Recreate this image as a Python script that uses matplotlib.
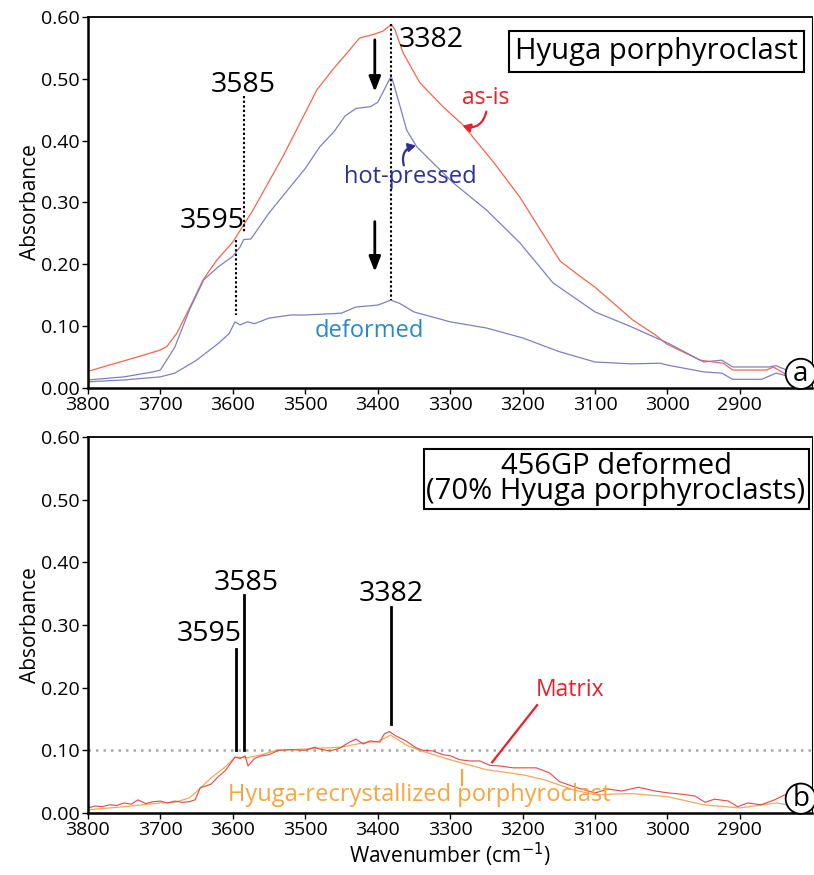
import numpy as np
import matplotlib.pyplot as plt

plt.rcParams['font.family'] = ['Open Sans', 'DejaVu Sans']

# ---- panel a: Hyuga porphyroclast ----
asis_x = [3800, 3738, 3701, 3691, 3677, 3659, 3641, 3622, 3600, 3572, 3531, 3484, 3462, 3440, 3425,
          3405, 3393, 3381, 3376, 3365, 3342, 3310, 3282, 3240, 3204, 3175, 3148, 3120, 3100, 3048,
          3017, 3001, 2955, 2923, 2910, 2863, 2854, 2835, 2815, 2800]
asis_y = [0.027, 0.048, 0.061, 0.067, 0.089, 0.131, 0.175, 0.207, 0.236, 0.288, 0.374, 0.482, 0.515, 0.545, 0.566,
          0.572, 0.577, 0.588, 0.579, 0.542, 0.494, 0.455, 0.425, 0.365, 0.309, 0.255, 0.205, 0.180, 0.163, 0.110,
          0.086, 0.071, 0.045, 0.040, 0.029, 0.029, 0.034, 0.021, 0.016, 0.012]

hot_x = [3800, 3750, 3710, 3700, 3680, 3660, 3640, 3620, 3600, 3590, 3585, 3575, 3550, 3500, 3480,
         3460, 3445, 3430, 3410, 3400, 3392, 3382, 3380, 3369, 3360, 3346, 3328, 3296, 3250, 3204,
         3158, 3100, 3050, 3010, 3000, 2950, 2925, 2910, 2900, 2860, 2850, 2830, 2800]
hot_y = [0.013, 0.018, 0.026, 0.029, 0.066, 0.126, 0.175, 0.196, 0.213, 0.228, 0.240, 0.241, 0.283, 0.355, 0.390,
         0.415, 0.440, 0.452, 0.455, 0.462, 0.480, 0.503, 0.500, 0.455, 0.417, 0.390, 0.369, 0.332, 0.288, 0.235,
         0.170, 0.123, 0.099, 0.078, 0.073, 0.042, 0.045, 0.034, 0.034, 0.034, 0.036, 0.026, 0.012]

def_x = [3800, 3750, 3700, 3680, 3650, 3620, 3605, 3597, 3590, 3580, 3570, 3550, 3520, 3500, 3450,
         3430, 3400, 3382, 3370, 3350, 3300, 3250, 3200, 3150, 3100, 3050, 3010, 3000, 2950, 2925,
         2910, 2870, 2850, 2830, 2800]
def_y = [0.010, 0.013, 0.018, 0.024, 0.045, 0.072, 0.088, 0.107, 0.102, 0.107, 0.104, 0.113, 0.118, 0.118, 0.121,
         0.131, 0.134, 0.142, 0.137, 0.123, 0.107, 0.097, 0.081, 0.059, 0.042, 0.039, 0.040, 0.037, 0.026, 0.024,
         0.014, 0.014, 0.024, 0.018, 0.015]

# ---- panel b: 456GP deformed ----
recr_x = [3800, 3750, 3700, 3680, 3660, 3650, 3630, 3610, 3597, 3580, 3560, 3540, 3500, 3450, 3420,
          3400, 3382, 3360, 3340, 3300, 3250, 3200, 3170, 3130, 3100, 3050, 3000, 2950, 2900, 2850,
          2820, 2800]
recr_y = [0.005, 0.010, 0.016, 0.017, 0.024, 0.034, 0.056, 0.074, 0.089, 0.088, 0.093, 0.100, 0.102, 0.105, 0.112,
          0.114, 0.124, 0.108, 0.099, 0.085, 0.069, 0.061, 0.053, 0.037, 0.029, 0.031, 0.026, 0.013, 0.008, 0.016,
          0.010, 0.010]

mat_x = [3800, 3790, 3780, 3770, 3760, 3750, 3740, 3731, 3720, 3710, 3700, 3690, 3680, 3670, 3660, 3652,
         3645, 3630, 3620, 3610, 3597, 3590, 3583, 3579, 3570, 3561, 3550, 3537, 3519, 3500, 3487, 3480,
         3466, 3453, 3439, 3430, 3420, 3411, 3397, 3391, 3384, 3375, 3361, 3347, 3338, 3324, 3310, 3299,
         3287, 3273, 3259, 3245, 3231, 3213, 3195, 3181, 3163, 3149, 3127, 3100, 3082, 3063, 3040, 3017,
         2999, 2981, 2962, 2948, 2935, 2916, 2903, 2889, 2871, 2852, 2838, 2824, 2810, 2800]
mat_y = [0.008, 0.011, 0.010, 0.013, 0.012, 0.016, 0.014, 0.021, 0.015, 0.018, 0.019, 0.016, 0.019, 0.017, 0.018, 0.021,
         0.040, 0.046, 0.058, 0.068, 0.089, 0.087, 0.091, 0.075, 0.087, 0.091, 0.093, 0.100, 0.101, 0.100, 0.105, 0.102,
         0.099, 0.103, 0.113, 0.118, 0.110, 0.115, 0.113, 0.126, 0.130, 0.123, 0.115, 0.104, 0.100, 0.099, 0.093, 0.091,
         0.085, 0.083, 0.083, 0.076, 0.075, 0.072, 0.072, 0.072, 0.064, 0.050, 0.041, 0.032, 0.038, 0.035, 0.041, 0.035,
         0.032, 0.030, 0.027, 0.017, 0.022, 0.019, 0.010, 0.016, 0.013, 0.021, 0.029, 0.024, 0.020, 0.022]

x_ticks = [3800, 3700, 3600, 3500, 3400, 3300, 3200, 3100, 3000, 2900]
y_ticks = [0.0, 0.1, 0.2, 0.3, 0.4, 0.5, 0.6]

red_line = '#f0674c'
blue_line = '#7d80c2'
matrix_line = '#e04848'
recr_line = '#f4a85a'


def style_axes(ax):
    ax.set_xlim(3800, 2800)
    ax.set_ylim(0, 0.6)
    ax.set_xticks(x_ticks)
    ax.set_yticks(y_ticks)
    ax.set_yticklabels([f'{v:.2f}' for v in y_ticks])
    ax.tick_params(labelsize=14, length=4, width=1, direction='out', pad=2)
    ax.spines['left'].set_linewidth(1.8)
    ax.spines['bottom'].set_linewidth(1.8)
    ax.spines['top'].set_linewidth(1.3)
    ax.spines['right'].set_linewidth(0.8)
    ax.set_ylabel('Absorbance', fontsize=15, labelpad=0)


fig = plt.figure(figsize=(8.14, 8.75), dpi=100)
ax1 = fig.add_axes([0.108, 0.5566, 0.890, 0.424])
ax2 = fig.add_axes([0.108, 0.0709, 0.890, 0.4297])

# Panel a
ax1.plot(asis_x, asis_y, color=red_line, lw=0.9)
ax1.plot(hot_x, hot_y, color=blue_line, lw=0.9)
ax1.plot(def_x, def_y, color=blue_line, lw=0.9)
style_axes(ax1)

dots = (0, (1.1, 1.1))
ax1.plot([3585, 3585], [0.472, 0.251], color='black', ls=dots, lw=1.5)
ax1.plot([3595, 3595], [0.240, 0.118], color='black', ls=dots, lw=1.5)
ax1.plot([3382, 3382], [0.588, 0.142], color='black', ls=dots, lw=1.5)
ax1.text(3585, 0.49, '3585', fontsize=20.5, ha='center', va='center')
ax1.text(3629, 0.27, '3595', fontsize=20.5, ha='center', va='center')
ax1.text(3326, 0.563, '3382', fontsize=20.5, ha='center', va='center')

for y0, y1 in [(0.563, 0.479), (0.269, 0.188)]:
    ax1.annotate('', xy=(3404, y1), xytext=(3404, y0),
                 arrowprops=dict(arrowstyle='-|>,head_length=0.9,head_width=0.35', color='black', lw=2,
                                 shrinkA=0, shrinkB=0))

ax1.text(3251, 0.469, 'as-is', fontsize=16.5, color='#e8202a', ha='center', va='center')
ax1.annotate('', xy=(3283, 0.424), xytext=(3250, 0.447),
             arrowprops=dict(arrowstyle='-|>,head_length=0.45,head_width=0.25', color='#e8202a', lw=1.6,
                             shrinkA=0, shrinkB=0, connectionstyle='arc3,rad=-0.5'))
ax1.text(3355, 0.341, 'hot-pressed', fontsize=17, color='#2e3192', ha='center', va='center')
ax1.annotate('', xy=(3347, 0.392), xytext=(3364, 0.360),
             arrowprops=dict(arrowstyle='-|>,head_length=0.45,head_width=0.25', color='#2e3192', lw=1.6,
                             shrinkA=0, shrinkB=0, connectionstyle='arc3,rad=-0.5'))
ax1.text(3412, 0.092, 'deformed', fontsize=17, color='#2a88c8', ha='center', va='center')

ax1.text(3015, 0.544, 'Hyuga porphyroclast', fontsize=21, ha='center', va='center',
         bbox=dict(boxstyle='square,pad=0.2', fc='white', ec='black', lw=1.5))
ax1.text(0.984, 0.038, 'a', transform=ax1.transAxes, fontsize=20, ha='center', va='center',
         bbox=dict(boxstyle='circle,pad=0.04', fc='white', ec='black', lw=1.3))

# Panel b
ax2.axhline(0.10, color='#a8a8a8', ls=(0, (1, 2)), lw=1.8)
ax2.plot(recr_x, recr_y, color=recr_line, lw=0.9)
ax2.plot(mat_x, mat_y, color=matrix_line, lw=0.8)
style_axes(ax2)
ax2.set_xlabel('Wavenumber (cm$^{-1}$)', fontsize=15, labelpad=1)

ax2.plot([3585, 3585], [0.348, 0.100], color='black', lw=2)
ax2.plot([3595, 3595], [0.262, 0.100], color='black', lw=2)
ax2.plot([3382, 3382], [0.329, 0.142], color='black', lw=2)
ax2.text(3582, 0.367, '3585', fontsize=20.5, ha='center', va='center')
ax2.text(3632, 0.286, '3595', fontsize=20.5, ha='center', va='center')
ax2.text(3382, 0.350, '3382', fontsize=20.5, ha='center', va='center')

ax2.text(3135, 0.196, 'Matrix', fontsize=16.5, color='#e8202a', ha='center', va='center')
ax2.plot([3180, 3242], [0.172, 0.081], color='#e8202a', lw=1.6)
ax2.text(3343, 0.029, 'Hyuga-recrystallized porphyroclast', fontsize=17, color='#f7a541',
         ha='center', va='center')
ax2.plot([3284, 3284], [0.069, 0.045], color='#f7a541', lw=1.6)

ax2.text(3071, 0.533, '456GP deformed\n(70% Hyuga porphyroclasts)', fontsize=21, ha='center',
         va='center', linespacing=0.8,
         bbox=dict(boxstyle='square,pad=0.1', fc='white', ec='black', lw=1.5))
ax2.text(0.984, 0.038, 'b', transform=ax2.transAxes, fontsize=20, ha='center', va='center',
         bbox=dict(boxstyle='circle,pad=0.04', fc='white', ec='black', lw=1.3))

fig.savefig('out.png', dpi=100)
